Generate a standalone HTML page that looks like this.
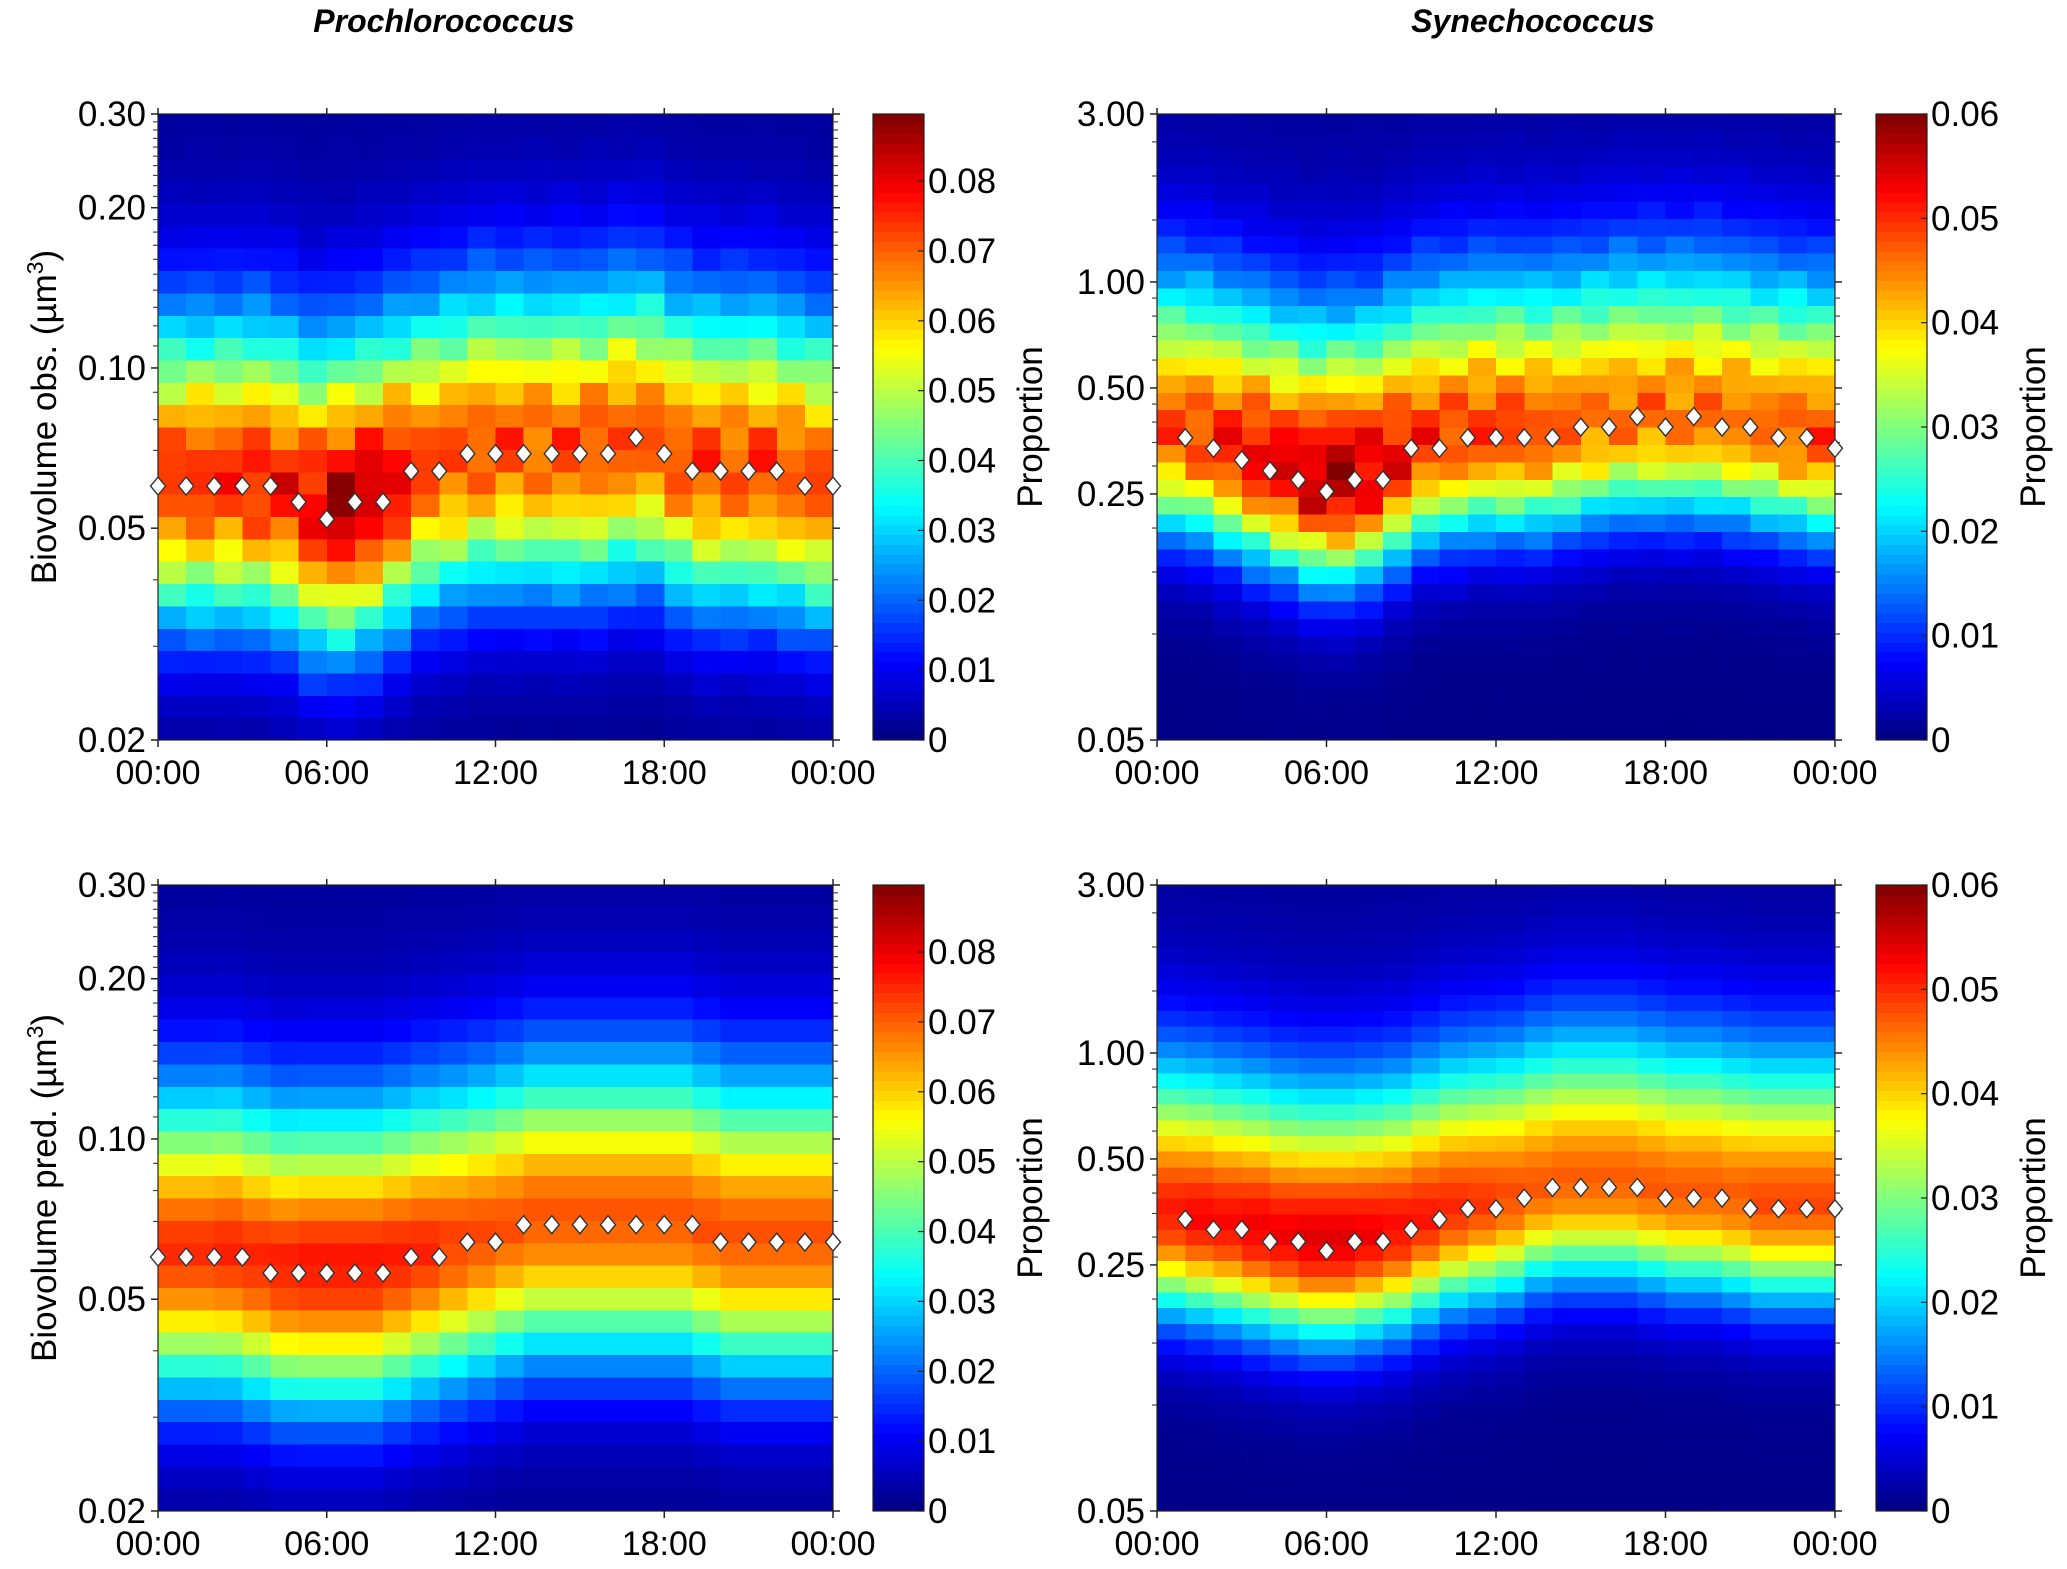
<!DOCTYPE html>
<html><head><meta charset="utf-8"><style>
html,body{margin:0;padding:0;background:#fff;}
svg{display:block;font-family:"Liberation Sans",Arial,sans-serif;}
</style></head><body>
<svg id="fig" width="2067" height="1569" viewBox="0 0 2067 1569" xmlns="http://www.w3.org/2000/svg">
<text x="444" y="32" font-size="32" font-weight="bold" font-style="italic" text-anchor="middle">Prochlorococcus</text>
<text x="1533" y="32" font-size="32" font-weight="bold" font-style="italic" text-anchor="middle">Synechococcus</text>
</svg>
<script>
// ---- data ----
const hours = [0,1,2,3,4,5,6,7,8,9,10,11,12,13,14,15,16,17,18,19,20,21,22,23,24];
const xTickLabels = ["00:00","06:00","12:00","18:00","00:00"];
const proObsMedian = [0.060,0.060,0.060,0.060,0.060,0.056,0.052,0.056,0.056,0.064,0.064,0.069,0.069,0.069,0.069,0.069,0.069,0.074,0.069,0.064,0.064,0.064,0.064,0.060,0.060];
const proPredMedian = [0.060,0.060,0.060,0.060,0.056,0.056,0.056,0.056,0.056,0.060,0.060,0.064,0.064,0.069,0.069,0.069,0.069,0.069,0.069,0.069,0.064,0.064,0.064,0.064,0.064];
const synObsMedian = [null,0.361,0.337,0.312,0.291,0.274,0.254,0.274,0.274,0.337,0.337,0.361,0.361,0.361,0.361,0.387,0.387,0.415,0.387,0.415,0.387,0.387,0.361,0.361,0.337];
const synPredMedian = [null,0.337,0.315,0.315,0.291,0.291,0.274,0.291,0.291,0.315,0.337,0.361,0.361,0.387,0.415,0.415,0.415,0.415,0.387,0.387,0.387,0.361,0.361,0.361,0.361];
const proObsPeak = [0.074,0.075,0.075,0.077,0.077,0.080,0.086,0.084,0.080,0.073,0.072,0.072,0.072,0.071,0.072,0.072,0.072,0.071,0.072,0.073,0.072,0.073,0.072,0.072];
const proPredPeak = [0.074,0.074,0.075,0.075,0.076,0.077,0.077,0.077,0.076,0.075,0.073,0.072,0.071,0.071,0.071,0.071,0.071,0.071,0.071,0.071,0.071,0.071,0.071,0.071];
const synObsPeak = [0.048,0.049,0.051,0.053,0.054,0.056,0.058,0.055,0.053,0.050,0.049,0.049,0.049,0.048,0.047,0.046,0.046,0.046,0.046,0.046,0.046,0.046,0.047,0.048];
const synPredPeak = [0.051,0.052,0.052,0.053,0.053,0.054,0.054,0.053,0.052,0.051,0.050,0.049,0.048,0.047,0.047,0.047,0.047,0.047,0.047,0.047,0.047,0.048,0.048,0.048];
const proYTicks = [0.02,0.05,0.10,0.20,0.30];
const proYMinor = [0.03,0.04,0.06,0.07,0.08,0.09,0.11,0.12,0.13,0.14,0.15,0.16,0.17,0.18,0.19,0.21,0.22,0.23,0.24,0.25,0.26,0.27,0.28,0.29];
const synYTicks = [0.05,0.25,0.50,1.00,3.00];
const synYMinor = [0.1,0.15,0.2,0.3,0.35,0.4,0.45,0.6,0.7,0.8,0.9,1.5,2.0,2.5];
const proCbTicks = [0,0.01,0.02,0.03,0.04,0.05,0.06,0.07,0.08];
const synCbTicks = [0,0.01,0.02,0.03,0.04,0.05,0.06];

// ---- layout ----
const NS="http://www.w3.org/2000/svg";
const svg=document.getElementById('fig');
function mk(tag,attrs,parent){const e=document.createElementNS(NS,tag);for(const k in attrs)e.setAttribute(k,attrs[k]);(parent||svg).appendChild(e);return e;}
function jet(t){t=Math.max(0,Math.min(1,t));const c=v=>Math.round(255*Math.max(0,Math.min(1,v)));
 return `rgb(${c(1.5-Math.abs(4*t-3))},${c(1.5-Math.abs(4*t-2))},${c(1.5-Math.abs(4*t-1))})`;}

const panels=[
 {id:'pro-obs',px:158,py:114,pw:675,ph:626,cbx:873,cbw:51,ymin:0.02,ymax:0.30,cmax:0.0896,med:proObsMedian,peak:proObsPeak,yt:proYTicks,ym:proYMinor,cbt:proCbTicks,rows:28,wUp:0.48,wDn:0.40,ylab:'Biovolume obs. (µm',rough:true},
 {id:'syn-obs',px:1157,py:114,pw:678,ph:626,cbx:1876,cbw:51,ymin:0.05,ymax:3.0,cmax:0.06,med:synObsMedian,peak:synObsPeak,yt:synYTicks,ym:synYMinor,cbt:synCbTicks,rows:36,wUp:0.70,wDn:0.42,ylab:null,rough:true},
 {id:'pro-pred',px:158,py:885,pw:675,ph:626,cbx:873,cbw:51,ymin:0.02,ymax:0.30,cmax:0.0896,med:proPredMedian,peak:proPredPeak,yt:proYTicks,ym:proYMinor,cbt:proCbTicks,rows:28,wUp:0.48,wDn:0.40,ylab:'Biovolume pred. (µm',rough:false},
 {id:'syn-pred',px:1157,py:885,pw:678,ph:626,cbx:1876,cbw:51,ymin:0.05,ymax:3.0,cmax:0.06,med:synPredMedian,peak:synPredPeak,yt:synYTicks,ym:synYMinor,cbt:synCbTicks,rows:40,wUp:0.68,wDn:0.42,ylab:null,rough:false}
];

panels.forEach(P=>{
 const g=mk('g',{});
 
 
 const lmin=Math.log(P.ymin),lmax=Math.log(P.ymax);
 const yS=v=>P.py+P.ph-(Math.log(v)-lmin)/(lmax-lmin)*P.ph;
 const xS=h=>P.px+h/24*P.pw;
 const cS=v=>P.py+P.ph-v/P.cmax*P.ph;
 const hm=mk('g',{'shape-rendering':'crispEdges'},g);
 
 
 for(let c=0;c<24;c++){
  const a=P.med[c]==null?P.med[c+1]:P.med[c], b=P.med[c+1];
  const cen=Math.log(Math.sqrt(a*b));
  for(let r=0;r<P.rows;r++){
   const l0=lmin+(lmax-lmin)*r/P.rows,l1=lmin+(lmax-lmin)*(r+1)/P.rows;
   const lm=(l0+l1)/2;const d=lm-cen;const z=d/(d>0?P.wUp:P.wDn);
   const tail=d>0?0.15/(1+z*z/3):0.12/(1+z*z/2);
   let v=P.peak[c]*(0.86*Math.exp(-z*z/2)+tail);
   if(P.rough){v*=1+0.08*Math.sin(c*12.9898+r*78.233)*Math.cos(c*3.1+r*1.7);}
   const x0=xS(c),x1=xS(c+1),y0=yS(Math.exp(l1)),y1=yS(Math.exp(l0));
   const cell=mk('rect',{x:x0,y:y0,width:x1-x0+0.6,height:y1-y0+0.6,fill:jet(v/P.cmax)},hm);
   
   
  }
 }
 mk('rect',{x:P.px,y:P.py,width:P.pw,height:P.ph,fill:'none',stroke:'#222','stroke-width':1.2},g);
 P.yt.forEach(v=>{
  const y=yS(v);
  mk('line',{x1:P.px-7,x2:P.px,y1:y,y2:y,stroke:'#222','stroke-width':1.5},g);
  mk('line',{x1:P.px+P.pw,x2:P.px+P.pw+7,y1:y,y2:y,stroke:'#222','stroke-width':1.5},g);
  const t=mk('text',{x:P.px-12,y:y+12,'font-size':35,'text-anchor':'end'},g);
  t.textContent=v.toFixed(2);
  
  
 });
 P.ym.forEach(v=>{
  const y=yS(v);
  mk('line',{x1:P.px-5,x2:P.px,y1:y,y2:y,stroke:'#444','stroke-width':1.2},g);
  mk('line',{x1:P.px+P.pw,x2:P.px+P.pw+5,y1:y,y2:y,stroke:'#444','stroke-width':1.2},g);
 });
 xTickLabels.forEach((lab,i)=>{
  const x=xS(i*6);
  mk('line',{x1:x,x2:x,y1:P.py+P.ph,y2:P.py+P.ph+7,stroke:'#222','stroke-width':1.5},g);
  mk('line',{x1:x,x2:x,y1:P.py-6,y2:P.py,stroke:'#222','stroke-width':1.5},g);
  const t=mk('text',{x:x,y:P.py+P.ph+44,'font-size':34,'text-anchor':'middle'},g);
  t.textContent=lab;
  
  
 });
 hours.forEach((h,i)=>{
  const v=P.med[i]; if(v==null) return;
  const x=xS(h),y=yS(v);
  const d=mk('path',{d:`M${x},${y-9} L${x+7.5},${y} L${x},${y+9} L${x-7.5},${y} Z`,fill:'#fff',stroke:'#333','stroke-width':1.4},g);
  
  
 });
 const cb=mk('g',{'shape-rendering':'crispEdges'},g);
 
 
 const N=64;
 for(let i=0;i<N;i++){
  const y0=P.py+P.ph-(i+1)/N*P.ph;
  mk('rect',{x:P.cbx,y:y0,width:P.cbw,height:P.ph/N+0.6,fill:jet((i+0.5)/N)},cb);
 }
 mk('rect',{x:P.cbx,y:P.py,width:P.cbw,height:P.ph,fill:'none',stroke:'#222','stroke-width':1.2},g);
 P.cbt.forEach(v=>{
  const y=cS(v);
  mk('line',{x1:P.cbx+P.cbw-6,x2:P.cbx+P.cbw,y1:y,y2:y,stroke:'#222','stroke-width':1.2},g);
  const t=mk('text',{x:P.cbx+P.cbw+4,y:y+12,'font-size':35},g);
  t.textContent=v===0?'0':v.toFixed(2);
  
  
 });
 const pl=mk('text',{transform:`translate(${P.cbx+P.cbw+118},${P.py+P.ph/2}) rotate(-90)`,'font-size':35,'text-anchor':'middle'},g);
 pl.textContent='Proportion';
 
 
 if(P.ylab){
  const yl=mk('text',{transform:`translate(56,${P.py+P.ph/2-10}) rotate(-90)`,'font-size':35,'text-anchor':'middle'},g);
  yl.textContent=P.ylab;
  const sup=mk('tspan',{'baseline-shift':'super','font-size':23},yl);sup.textContent='3';
  const cl=mk('tspan',{},yl);cl.textContent=')';
  
  
 }
});
</script>
</body></html>
